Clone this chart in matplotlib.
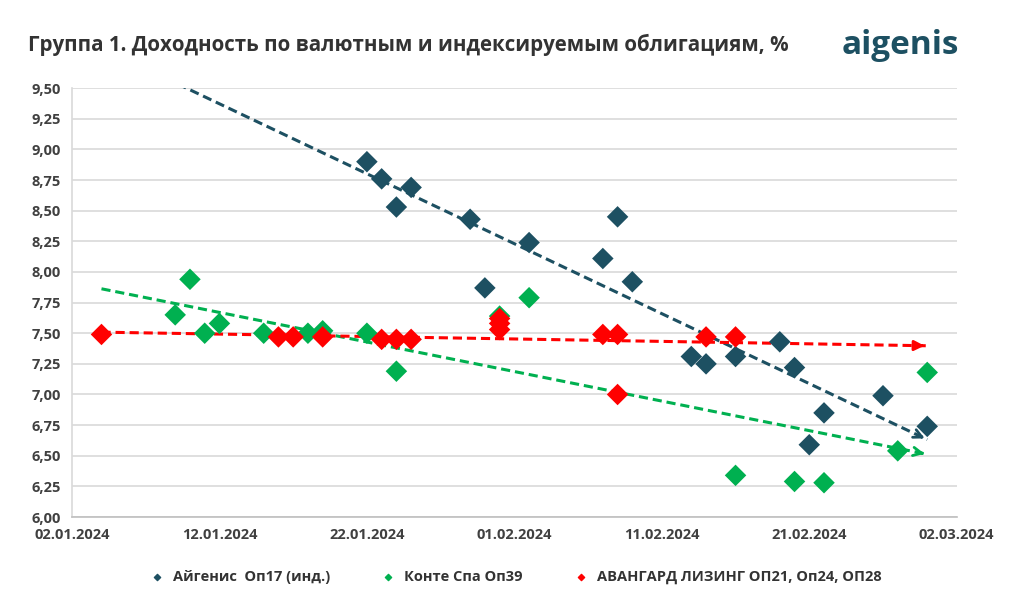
import numpy as np
import pandas as pd
import matplotlib
matplotlib.use('Agg')
import matplotlib.pyplot as plt
import matplotlib.dates as mdates
from matplotlib.ticker import FuncFormatter, MultipleLocator

plt.rcParams['font.family'] = ['Open Sans', 'DejaVu Sans']

# Айгенис Оп17 (инд.)
aig_dates = ['2024-01-22', '2024-01-23', '2024-01-24', '2024-01-25', '2024-01-29', '2024-01-30',
             '2024-02-02', '2024-02-07', '2024-02-08', '2024-02-09', '2024-02-13', '2024-02-14',
             '2024-02-16', '2024-02-19', '2024-02-20', '2024-02-21', '2024-02-22', '2024-02-26',
             '2024-02-29']
aig_vals = [8.90, 8.76, 8.53, 8.69, 8.43, 7.87, 8.24, 8.11, 8.45, 7.92, 7.31, 7.25,
            7.31, 7.43, 7.22, 6.59, 6.85, 6.99, 6.74]

# Конте Спа Оп39
konte_dates = ['2024-01-09', '2024-01-10', '2024-01-11', '2024-01-12', '2024-01-15', '2024-01-18',
               '2024-01-19', '2024-01-22', '2024-01-24', '2024-01-31', '2024-02-02', '2024-02-16',
               '2024-02-20', '2024-02-22', '2024-02-27', '2024-02-29']
konte_vals = [7.65, 7.94, 7.50, 7.58, 7.50, 7.50, 7.52, 7.50, 7.19, 7.64, 7.79, 6.34,
              6.29, 6.28, 6.54, 7.18]

# АВАНГАРД ЛИЗИНГ ОП21, Оп24, ОП28
avg_dates = ['2024-01-04', '2024-01-16', '2024-01-17', '2024-01-19', '2024-01-23', '2024-01-24',
             '2024-01-25', '2024-01-31', '2024-01-31', '2024-01-31', '2024-02-07', '2024-02-08',
             '2024-02-08', '2024-02-14', '2024-02-16']
avg_vals = [7.49, 7.47, 7.47, 7.47, 7.45, 7.45, 7.45, 7.62, 7.58, 7.53, 7.49, 7.49,
            7.00, 7.47, 7.47]

series = [
    ('Айгенис  Оп17 (инд.)', aig_dates, aig_vals, '#1d5062', '->'),
    ('Конте Спа Оп39', konte_dates, konte_vals, '#00b050', '->'),
    ('АВАНГАРД ЛИЗИНГ ОП21, Оп24, ОП28', avg_dates, avg_vals, '#ff0000', '-|>'),
]

fig = plt.figure(figsize=(10.24, 6.04), dpi=100)
ax = fig.add_axes([0.0703, 0.144, 0.864, 0.710])

all_x = np.concatenate([mdates.date2num(pd.to_datetime(d)) for _, d, _, _, _ in series])
x0, x1 = all_x.min(), all_x.max()

for name, d, v, col, ah in series:
    x = mdates.date2num(pd.to_datetime(d))
    k, b = np.polyfit(x, v, 1)
    xs = np.array([x0, x1])
    ys = k * xs + b
    ax.plot(xs, ys, color=col, lw=2.2, ls=(0, (3, 1.6)), zorder=2)
    ax.annotate('', xy=(xs[1], ys[1]), xytext=(xs[1] - 0.6, ys[1] - 0.6 * k),
                arrowprops=dict(arrowstyle=ah + ',head_length=0.6,head_width=0.3',
                                color=col, lw=2), zorder=2)
    ax.scatter(x, v, marker='D', s=120, color=col, edgecolor='none', zorder=3)
    ax.scatter([], [], marker='D', s=10, color=col, label=name)

ax.set_xlim(mdates.date2num(pd.Timestamp('2024-01-02')), mdates.date2num(pd.Timestamp('2024-03-02')))
ax.set_ylim(6.0, 9.5)
ticks = pd.date_range('2024-01-02', '2024-03-02', freq='10D')
ax.set_xticks(mdates.date2num(ticks))
ax.set_xticklabels([t.strftime('%d.%m.%Y') for t in ticks])
ax.yaxis.set_major_locator(MultipleLocator(0.25))
ax.yaxis.set_major_formatter(FuncFormatter(lambda v, p: f'{v:.2f}'.replace('.', ',')))

ax.grid(axis='y', color='#d9d9d9', lw=1.2)
ax.set_axisbelow(True)
for s in ['top', 'right']:
    ax.spines[s].set_visible(False)
ax.spines['left'].set_color('#d9d9d9')
ax.spines['bottom'].set_color('#bfbfbf')
ax.spines['left'].set_linewidth(1.2)
ax.spines['bottom'].set_linewidth(1.2)
ax.tick_params(length=0, labelsize=10.5, colors='#404040', pad=8)
for lab in ax.get_xticklabels() + ax.get_yticklabels():
    lab.set_fontweight('bold')

fig.text(0.027, 0.925, 'Группа 1. Доходность по валютным и индексируемым облигациям, %',
         fontsize=14.8, fontweight='bold', color='#333333', va='center')
fig.text(0.937, 0.925, 'aigenis', fontsize=24, fontweight='bold', color='#1d5062',
         va='center', ha='right')

leg = fig.legend(loc='center', bbox_to_anchor=(0.5, 0.045), ncol=3, frameon=False,
                 fontsize=10.5, handletextpad=0.1, columnspacing=3, markerscale=1)
for t in leg.get_texts():
    t.set_color('#333333')
    t.set_fontweight('bold')

fig.savefig('out.png', dpi=100)
